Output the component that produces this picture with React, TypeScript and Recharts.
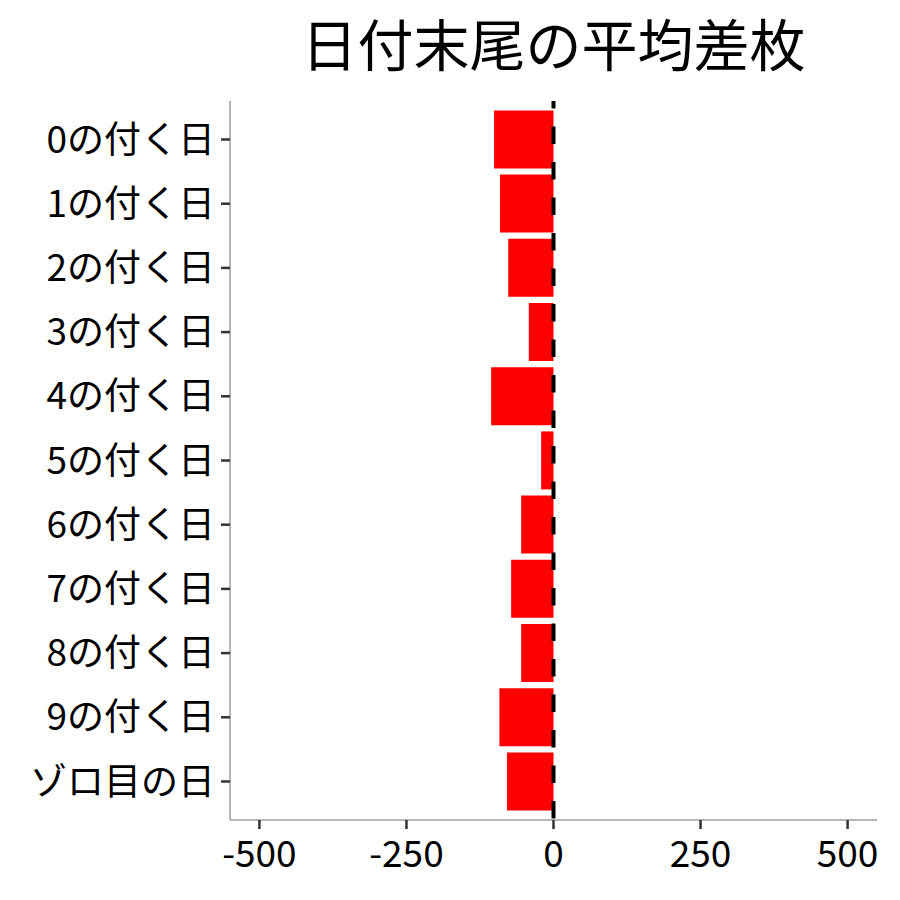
import { Bar, BarChart, ReferenceLine, XAxis, YAxis } from "recharts";

const categories = [
  "0の付く日",
  "1の付く日",
  "2の付く日",
  "3の付く日",
  "4の付く日",
  "5の付く日",
  "6の付く日",
  "7の付く日",
  "8の付く日",
  "9の付く日",
  "ゾロ目の日",
];
const avgDiff = [-101, -91, -77, -42, -106, -21, -55, -72, -55, -92, -79];
const xTicks = [-500, -250, 0, 250, 500];

const FONT = '"Noto Sans CJK JP", "Noto Sans", sans-serif';

export default function App() {
  const data = categories.map((name, i) => ({ name, value: avgDiff[i] }));

  return (
    <div style={{ position: "absolute", left: 0, top: 0, width: 900, height: 900, background: "#fff", fontFamily: FONT }}>
      <div
        style={{
          position: "absolute",
          left: 230,
          width: 647,
          top: 7,
          textAlign: "center",
          fontSize: 56,
          lineHeight: "70px",
          color: "#000",
        }}
      >
        日付末尾の平均差枚
      </div>
      <BarChart
        width={900}
        height={900}
        data={data}
        layout="vertical"
        margin={{ top: 101, right: 23, bottom: 0, left: 0 }}
      >
        <XAxis
          type="number"
          domain={[-550, 550]}
          ticks={xTicks}
          allowDataOverflow
          height={80}
          stroke="#6f6f6f"
          tickLine={{ stroke: "#333", strokeWidth: 2.5 }}
          tickSize={9}
          tickMargin={12}
          tick={{ fill: "#000", fontSize: 37, fontFamily: FONT }}
        />
        <YAxis
          type="category"
          dataKey="name"
          width={230}
          padding={{ top: 6.4, bottom: 6.4 }}
          stroke="#6f6f6f"
          tickLine={{ stroke: "#333", strokeWidth: 2.5 }}
          tickSize={9}
          tickMargin={6}
          tick={{ fill: "#000", fontSize: 37, fontFamily: FONT }}
        />
        <Bar dataKey="value" fill="#ff0000" barSize={58} isAnimationActive={false} />
        <ReferenceLine
          x={0}
          shape={(p: any) => (
            <line
              x1={p.x1}
              x2={p.x2}
              y1={Math.min(p.y1, p.y2)}
              y2={Math.max(p.y1, p.y2)}
              stroke="#000"
              strokeWidth={4}
              strokeDasharray="17.5 18"
              strokeDashoffset={10}
            />
          )}
        />
      </BarChart>
    </div>
  );
}
